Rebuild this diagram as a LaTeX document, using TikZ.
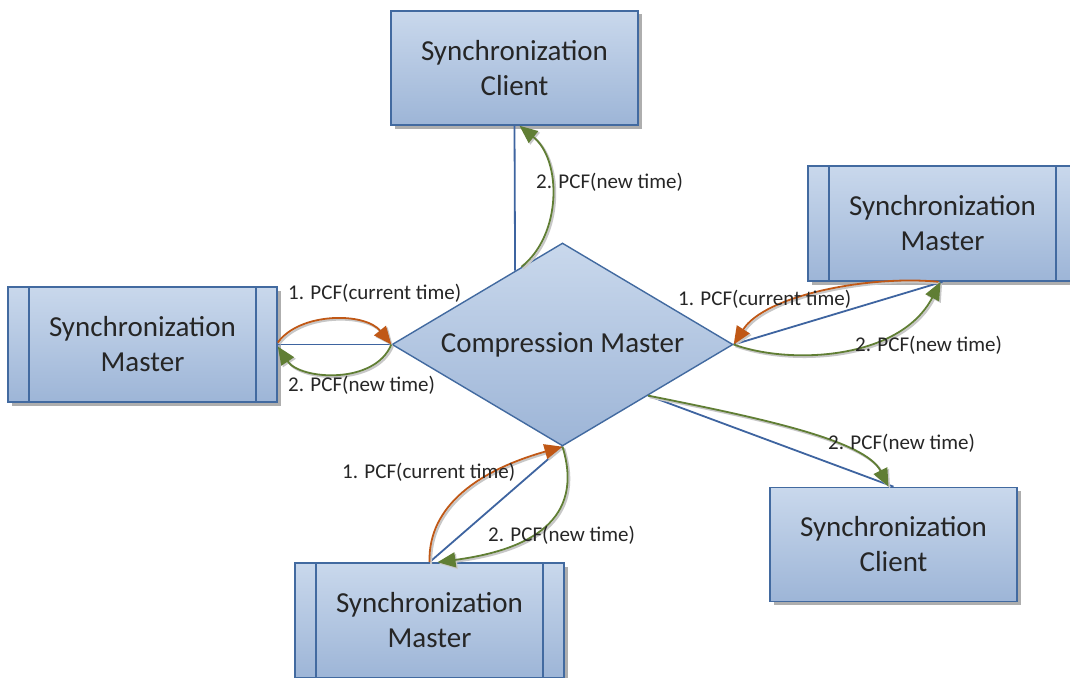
\documentclass[tikz,border=0pt]{standalone}
\usepackage{fontspec}
\setmainfont{Carlito}
\usetikzlibrary{arrows.meta,shapes.geometric,shadows,calc}

\definecolor{boxtop}{RGB}{201,216,236}
\definecolor{boxbot}{RGB}{157,181,215}
\definecolor{boxedge}{RGB}{66,106,160}
\definecolor{linkblue}{RGB}{62,100,160}
\definecolor{reqorange}{RGB}{192,88,22}
\definecolor{ansgreen}{RGB}{96,126,52}
\definecolor{txt}{RGB}{38,38,38}

\tikzset{
  unit/.style={draw=boxedge, line width=1.6pt, top color=boxtop, bottom color=boxbot,
    drop shadow={shadow xshift=3.5pt, shadow yshift=-3.5pt, fill=black!45, opacity=0.7},
    text=txt, align=center, font=\fontsize{29}{35}\selectfont, inner sep=0pt},
  clientbox/.style={unit, minimum width=247pt, minimum height=114pt},
  masterbox/.style={unit, minimum width=269pt, minimum height=115pt},
  hub/.style={diamond, aspect=1.68, draw=boxedge, line width=1.4pt,
    top color=boxtop, bottom color=boxbot, minimum width=341pt, minimum height=203pt,
    inner sep=0pt, text=txt, font=\fontsize{29}{35}\selectfont},
  sidebar/.style={draw=boxedge, line width=1.6pt},
  link/.style={draw=linkblue, line width=1.8pt},
  tipshadow/.style={preaction={draw=black!22, line width=2.2pt,
    transform canvas={shift={(1.6pt,-1.6pt)}}}},
  req/.style={tipshadow, draw=reqorange, line width=1.8pt, -{Triangle[length=18pt,width=15pt]}},
  ans/.style={tipshadow, draw=ansgreen, line width=1.8pt, -{Triangle[length=18pt,width=15pt]}},
  msg/.style={text=txt, font=\fontsize{21}{24}\selectfont, inner sep=0pt, anchor=west},
}

\begin{document}
\begin{tikzpicture}[x=1pt, y=-1pt]
\useasboundingbox (0,0) rectangle (1070,677);
\clip (0,0) rectangle (1070,677);
\fill[white] (0,0) rectangle (1070,677);

% central node
\node[hub] (hub) at (562.5,344.5) {Compression Master};

% outer units
\node[clientbox] (tc)  at (514.5,68)   {Synchronization\\Client};
\node[clientbox] (brc) at (893.5,544.5) {Synchronization\\Client};
\node[masterbox] (lm)  at (142.5,344.5) {Synchronization\\Master};
\node[masterbox] (rm)  at (942.5,223.5) {Synchronization\\Master};
\node[masterbox] (bm)  at (429.5,620.5) {Synchronization\\Master};

% side bars of the master units
\foreach \m in {lm,rm,bm}{
  \draw[sidebar] ([xshift=22pt]\m.north west) -- ([xshift=22pt]\m.south west);
  \draw[sidebar] ([xshift=-22pt]\m.north east) -- ([xshift=-22pt]\m.south east);
}

% attachment points on the diamond edges
\coordinate (tcfoot) at ($(hub.north)!0.277!(hub.west)$);
\coordinate (tcans)  at ($(hub.north)!0.24!(hub.west)$);
\coordinate (brfoot) at ($(hub.east)!0.5!(hub.south)$);

% top client
\draw[link] (tc.south) -- (tcfoot);
\draw[ans] (tcans) .. controls (562,235) and (562,160) .. ([xshift=5pt]tc.south);
\node[msg] (tcl2) at (536,182) {2. PCF(new time)};

% left master
\draw[link] (lm.east) -- (hub.west);
\draw[req] ([yshift=2pt]lm.east) .. controls (300,312) and (365,312) .. (hub.west);
\draw[ans] (hub.west) .. controls (375,385) and (300,380) .. ([yshift=-2pt]lm.east);
\node[msg] (lml1) at (288,293) {1. PCF(current time)};
\node[msg] (lml2) at (288,385) {2. PCF(new time)};

% right master
\draw[link] (hub.east) -- (rm.south);
\draw[req] ([xshift=-4pt]rm.south) .. controls (870,275) and (765,295) .. (hub.east);
\draw[ans] (hub.east) .. controls (790,365) and (900,360) .. ([xshift=-2pt]rm.south);
\node[msg] (rml1) at (678,299) {1. PCF(current time)};
\node[msg] (rml2) at (855,345) {2. PCF(new time)};

% bottom master
\draw[link] (bm.north) -- (hub.south);
\draw[req] (bm.north) .. controls (428,505) and (480,470) .. (hub.south);
\draw[ans] (hub.south) .. controls (585,520) and (530,550) .. ([xshift=8pt]bm.north);
\node[msg] (bml1) at (342,472) {1. PCF(current time)};
\node[msg] (bml2) at (488,535) {2. PCF(new time)};

% bottom right client
\draw[link] (brfoot) -- (brc.north);
\draw[ans] (brfoot) .. controls (760,418) and (865,440) .. ([xshift=-5pt]brc.north);
\node[msg] (brcl2) at (828,443) {2. PCF(new time)};
\end{tikzpicture}
\end{document}
